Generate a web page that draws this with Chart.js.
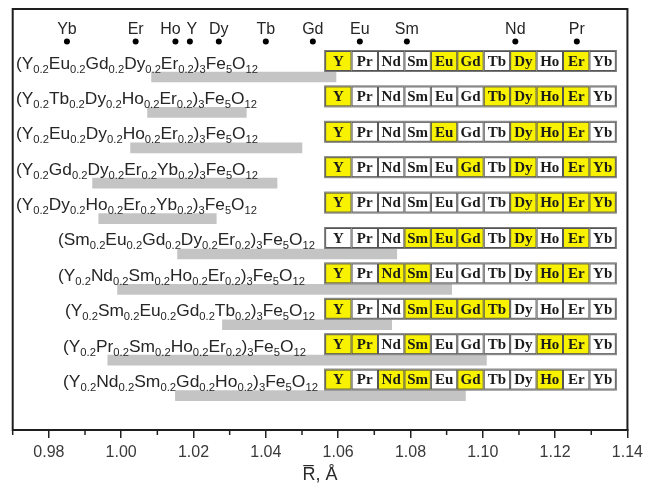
<!DOCTYPE html>
<html><head><meta charset="utf-8">
<script src="https://cdn.jsdelivr.net/npm/chart.js@4.4.1/dist/chart.umd.min.js"></script>
<style>html,body{margin:0;padding:0;background:#fff;}#wrap{width:648px;height:491px;}</style>
</head><body><div id="wrap"><canvas id="c" width="648" height="491"></canvas></div>
<script>
// ---------- data ----------
const compositions = [
  ['Y','Eu','Gd','Dy','Er'],
  ['Y','Tb','Dy','Ho','Er'],
  ['Y','Eu','Dy','Ho','Er'],
  ['Y','Gd','Dy','Er','Yb'],
  ['Y','Dy','Ho','Er','Yb'],
  ['Sm','Eu','Gd','Dy','Er'],
  ['Y','Nd','Sm','Ho','Er'],
  ['Y','Sm','Eu','Gd','Tb'],
  ['Y','Pr','Sm','Ho','Er'],
  ['Y','Nd','Sm','Gd','Ho']
];
const barLow  = [1.0084, 1.0073, 1.0026, 0.9921, 0.9938, 1.0156, 0.9990, 1.0280, 0.9963, 1.0150];
const barHigh = [1.0594, 1.0346, 1.0500, 1.0431, 1.0263, 1.0762, 1.0914, 1.0748, 1.1010, 1.0952];
const meanR   = [1.0338, 1.0210, 1.0262, 1.0176, 1.0100, 1.0458, 1.0452, 1.0514, 1.0486, 1.0550];
const topElements = ['Yb','Er','Ho','Y','Dy','Tb','Gd','Eu','Sm','Nd','Pr'];
const topRadii    = [0.985, 1.004, 1.015, 1.019, 1.027, 1.040, 1.053, 1.066, 1.079, 1.109, 1.126];
const tableElements = ['Y','Pr','Nd','Sm','Eu','Gd','Tb','Dy','Ho','Er','Yb'];
const xTicks = [0.98, 1.00, 1.02, 1.04, 1.06, 1.08, 1.10, 1.12, 1.14];
const xMinorTicks = [0.97, 0.99, 1.01, 1.03, 1.05, 1.07, 1.09, 1.11, 1.13];
const xTitle = 'R\u0305, \u00C5';

// ---------- layout (not data) ----------
const topLabelNudge = [0,0,-5,2,0,0,0,0,0,0,0];
const labelStart = [16,16,16,16,16,58,58,65,63,63];
const labelEnd   = [258,257,258,258,257,315,305,315,306,318];
const tableFrom = 1.0564, tableTo = 1.1368;
const TEXT = '#262626';

function compSegments(els){
  const s=[{t:'(',sub:false}];
  els.forEach(e=>{s.push({t:e,sub:false});s.push({t:'0.2',sub:true});});
  s.push({t:')',sub:false});s.push({t:'3',sub:true});
  s.push({t:'Fe',sub:false});s.push({t:'5',sub:true});
  s.push({t:'O',sub:false});s.push({t:'12',sub:true});
  return s;
}

const overlay = {
  id:'overlay',
  afterDatasetsDraw(chart){
    const ctx=chart.ctx, xs=chart.scales.x, ys=chart.scales.y, ca=chart.chartArea;
    ctx.save();
    // top element labels
    ctx.fillStyle=TEXT; ctx.font='16px "Liberation Sans", Arial, sans-serif';
    ctx.textAlign='center'; ctx.textBaseline='middle';
    topElements.forEach((e,i)=>{
      ctx.fillText(e, xs.getPixelForValue(topRadii[i])+topLabelNudge[i], ys.getPixelForValue(0)-12);
    });
    // composition labels
    compositions.forEach((els,i)=>{
      const segs=compSegments(els);
      const yb=ys.getPixelForValue(i+1)-8.5;
      const mainF='17px "Liberation Sans", Arial, sans-serif';
      const subF='11px "Liberation Sans", Arial, sans-serif';
      let w=0;
      segs.forEach(s=>{ctx.font=s.sub?subF:mainF; s.w=ctx.measureText(s.t).width; w+=s.w;});
      const k=(labelEnd[i]-labelStart[i])/w;
      ctx.save();
      ctx.translate(labelStart[i], yb);
      ctx.scale(k,1);
      ctx.textAlign='left'; ctx.textBaseline='alphabetic'; ctx.fillStyle=TEXT;
      let x=0;
      segs.forEach(s=>{ctx.font=s.sub?subF:mainF; ctx.fillText(s.t,x,s.sub?4:0); x+=s.w;});
      ctx.restore();
    });
    // element tables
    const x0=xs.getPixelForValue(tableFrom), x1=xs.getPixelForValue(tableTo);
    const cw=(x1-x0)/tableElements.length, ch=20;
    compositions.forEach((els,i)=>{
      const yc=ys.getPixelForValue(i+1)-16;
      const top=yc-ch/2;
      tableElements.forEach((e,j)=>{
        const cx=x0+j*cw;
        ctx.fillStyle=els.includes(e)?'#f8f200':'#ffffff';
        ctx.fillRect(cx,top,cw,ch);
        ctx.strokeStyle='#555'; ctx.lineWidth=1;
        ctx.strokeRect(cx+0.5,top+0.5,cw-1,ch-1);
        ctx.fillStyle='#1a1a1a';
        ctx.font='bold 15px "Liberation Serif", "Times New Roman", serif';
        ctx.textAlign='center'; ctx.textBaseline='middle';
        ctx.fillText(e,cx+cw/2,yc+1,cw-3);
      });
      ctx.strokeStyle='#777'; ctx.lineWidth=1;
      ctx.strokeRect(x0-0.5,top-0.5,x1-x0+1,ch+1);
    });
    // minor ticks
    ctx.strokeStyle='#222'; ctx.lineWidth=1.5;
    xMinorTicks.forEach(v=>{
      const px=xs.getPixelForValue(v);
      ctx.beginPath(); ctx.moveTo(px,ca.bottom); ctx.lineTo(px,ca.bottom+5); ctx.stroke();
    });
    // frame
    ctx.strokeStyle='#1e1e1e'; ctx.lineWidth=2;
    ctx.strokeRect(ca.left,ca.top,ca.right-ca.left,ca.bottom-ca.top);
    ctx.restore();
  }
};

new Chart(document.getElementById('c'),{
  type:'bar',
  data:{datasets:[
    {type:'bar', indexAxis:'y', label:'range',
     data:barLow.map((l,i)=>({y:i+1,x:[l,barHigh[i]]})),
     backgroundColor:'#c4c4c4', borderWidth:0, barThickness:10, grouped:false},
    {type:'scatter', label:'mean',
     data:meanR.map((m,i)=>({x:m,y:i+1})),
     pointRadius:3.3, pointBackgroundColor:'#000', pointBorderWidth:0, showLine:false},
    {type:'scatter', label:'ions',
     data:topRadii.map(r=>({x:r,y:0})),
     pointRadius:3, pointBackgroundColor:'#000', pointBorderWidth:0, showLine:false}
  ]},
  options:{
    responsive:false, animation:false,
    layout:{padding:{left:12.7,right:18.7,top:9,bottom:0}},
    plugins:{legend:{display:false},tooltip:{enabled:false}},
    scales:{
      x:{type:'linear', position:'bottom', min:0.97, max:1.14, offset:false,
         afterBuildTicks:(s)=>{s.ticks=xTicks.map(v=>({value:v}));},
         afterFit:(s)=>{s.height=61;},
         grid:{display:true, offset:false, drawOnChartArea:false, tickLength:8, color:'#222', lineWidth:1.5},
         border:{display:true,color:'#1e1e1e',width:2},
         ticks:{callback:(v)=>Number(v).toFixed(2), color:'#3a3a3a', padding:5,
                font:{family:'"Liberation Sans", Arial, sans-serif', size:16}, maxRotation:0, autoSkip:false},
         title:{display:true, text:xTitle, color:'#2a2a2a',
                font:{family:'"Liberation Sans", Arial, sans-serif', size:18}, padding:{top:0,bottom:5}}
      },
      y:{type:'linear', display:false, reverse:true, min:-0.921, max:10.972, offset:false,
         grid:{offset:false}}
    }
  },
  plugins:[overlay]
});
</script></body></html>
